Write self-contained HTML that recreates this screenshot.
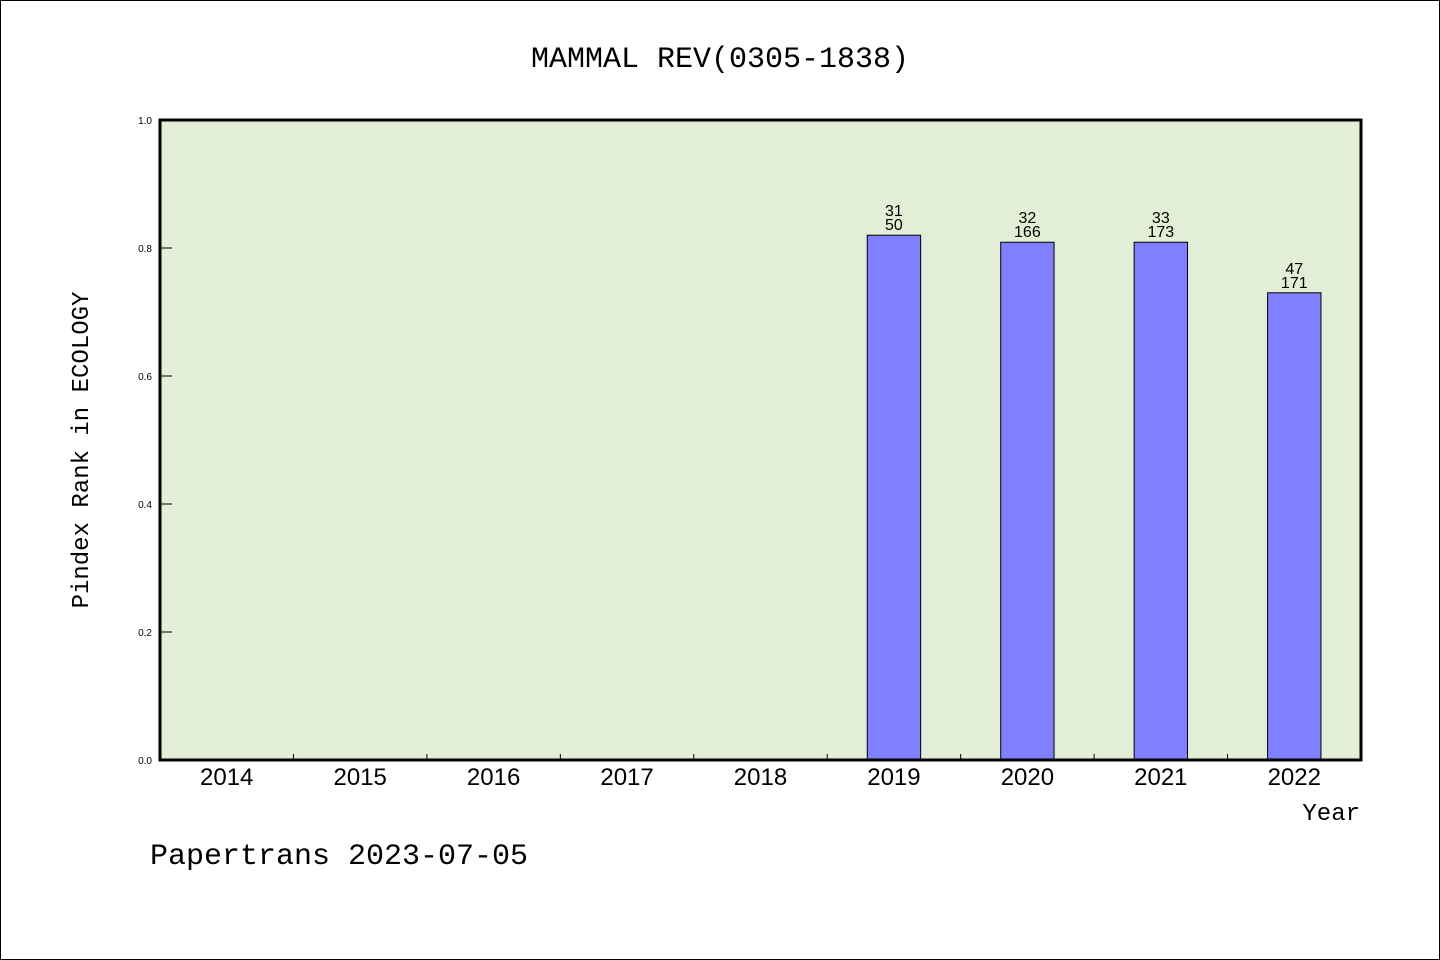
<!DOCTYPE html>
<html><head><meta charset="utf-8">
<style>
html,body{margin:0;padding:0;background:#fff;}
svg{display:block;font-family:"Liberation Mono","DejaVu Sans Mono",monospace;}
</style></head>
<body>
<svg id="chart" width="1440" height="960" viewBox="0 0 1440 960" xmlns="http://www.w3.org/2000/svg">
<rect x="0.5" y="0.5" width="1439" height="959" fill="#fff" stroke="#000"/>
<text x="720" y="67" text-anchor="middle" font-size="30">MAMMAL REV(0305-1838)</text>
<rect x="160" y="120" width="1201" height="640" fill="#e2efd6"/>
<g id="marks"></g>
<rect x="160" y="120" width="1201" height="640" fill="none" stroke="#000" stroke-width="3"/>
<text transform="translate(88,450) rotate(-90)" text-anchor="middle" font-size="24">Pindex Rank in ECOLOGY</text>
<text x="1360" y="820" text-anchor="end" font-size="24">Year</text>
<text x="150" y="864" font-size="30">Papertrans 2023-07-05</text>
</svg>
<script>
const categories = ["2014","2015","2016","2017","2018","2019","2020","2021","2022"];
const values = [null,null,null,null,null,0.820,0.809,0.809,0.730];
const topLabels = ["","","","","","31","32","33","47"];
const bottomLabels = ["","","","","","50","166","173","171"];
const yTicks = [0.0,0.2,0.4,0.6,0.8,1.0];

const X0=160, X1=1361, Y0=760, Y1=120;
const band=(X1-X0)/categories.length;
const xc=i=>X0+band*(i+0.5);
const y=v=>Y0-(v-0)/(1-0)*(Y0-Y1);
const NS="http://www.w3.org/2000/svg";
const g=document.getElementById('marks');
function mk(t,a){const e=document.createElementNS(NS,t);for(const k in a)e.setAttribute(k,a[k]);g.appendChild(e);return e;}

yTicks.forEach(v=>{
  const l=mk('line',{x1:X0,x2:X0+12,y1:y(v),y2:y(v),stroke:'#000','stroke-width':1});
  
  
  const t=mk('text',{x:X0-8,y:y(v)+4,'text-anchor':'end','font-size':10,'font-family':'Liberation Sans, sans-serif'});
  t.textContent=v.toFixed(1);
  
  
});
categories.forEach((c,i)=>{
  if(i>0){
    const l=mk('line',{x1:X0+band*i,x2:X0+band*i,y1:Y0,y2:Y0-6,stroke:'#000','stroke-width':1});
    
    
  }
  const t=mk('text',{x:xc(i),y:785,'text-anchor':'middle','font-size':24,'font-family':'Liberation Sans, sans-serif'});
  t.textContent=c;
  
  
  const v=values[i];
  if(v!=null){
    const w=band*0.4;
    const r=mk('rect',{x:xc(i)-w/2,y:y(v),width:w,height:Y0-y(v),fill:'#8080ff',stroke:'#000','stroke-width':1});
    
    
    const a=mk('text',{x:xc(i),y:y(v)-19,'text-anchor':'middle','font-size':16,'font-family':'Liberation Sans, sans-serif'});
    a.textContent=topLabels[i];
    
    
    const b=mk('text',{x:xc(i),y:y(v)-5,'text-anchor':'middle','font-size':16,'font-family':'Liberation Sans, sans-serif'});
    b.textContent=bottomLabels[i];
    
    
  }
});
</script>
</body></html>
